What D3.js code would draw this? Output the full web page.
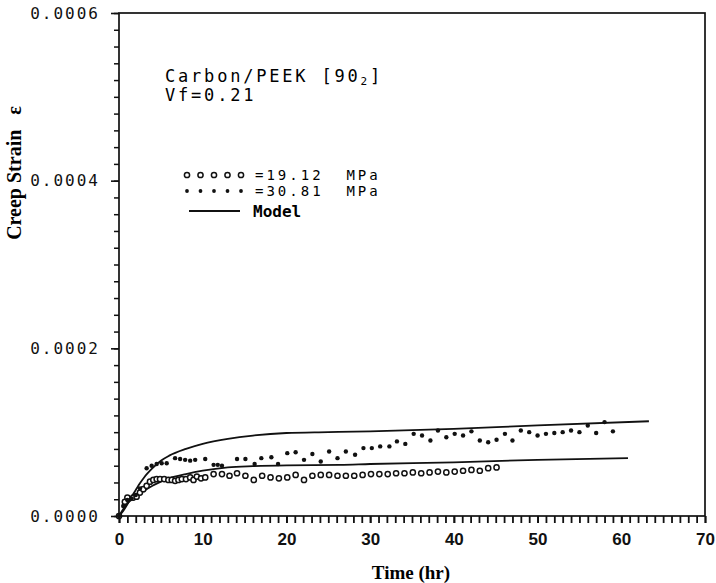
<!DOCTYPE html>
<html>
<head>
<meta charset="utf-8">
<script src="https://cdn.jsdelivr.net/npm/d3@7/dist/d3.min.js"></script>
<style>
  body { margin: 0; background: #fff; }
  svg { display: block; }
  .tick text { fill: #111; }
</style>
</head>
<body>
<svg id="chart" width="716" height="583"></svg>
<script>
// 19.12 MPa measurements (open circles), strain in 1e-6
const lowTime = [0, 0.7, 1.0, 1.7, 2.1, 2.5, 2.9, 3.3, 3.7, 4.1, 4.5, 4.9, 5.4, 5.9, 6.3, 6.7, 7.1, 7.5, 8.0, 8.5,
  8.9, 9.3, 9.8, 10.3, 11.3, 12.3, 13.2, 14.1, 15.1, 16.1, 17.1, 18.1, 19.1, 20.1, 21.1, 22.1, 23.1, 24.1, 25.1, 26.1,
  27.1, 28.1, 29.1, 30.1, 31.1, 32.1, 33.1, 34.1, 35.1, 36.1, 37.1, 38.1, 39.1, 40.1, 41.1, 42.1, 43.1, 44.1, 45.1]
const lowStrain = [0, 17, 22, 22, 23, 28, 32, 36, 41, 43, 44, 44, 44, 43, 43, 42, 43, 44, 44, 46,
  43, 47, 45, 46, 50, 50, 48, 51, 48, 43, 48, 46, 45, 46, 49, 43, 48, 49, 49, 48,
  48, 48, 49, 50, 50, 50, 51, 51, 52, 51, 52, 53, 52, 53, 54, 55, 54, 57, 58]

// 30.81 MPa measurements (filled dots)
const highTime = [0, 0.5, 1.0, 1.5, 2.0, 2.5, 3.3, 3.9, 4.5, 5.1, 5.7, 6.7, 7.3, 7.9, 8.5, 9.1, 10.3, 11.3, 11.8, 12.3,
  14.1, 15.1, 16.2, 17.0, 18.2, 19.0, 20.1, 21.1, 22.1, 23.1, 24.1, 25.1, 26.1, 27.1, 28.2, 29.2, 30.2, 31.2, 32.3, 33.2,
  34.2, 35.2, 36.2, 37.2, 38.1, 39.1, 40.1, 41.1, 42.1, 43.1, 44.1, 45.1, 46.1, 47.0, 48.0, 49.0, 50.0, 51.0, 52.0, 53.0,
  54, 55, 56, 57, 58, 59]
const highStrain = [0, 12, 19, 21, 25, 33, 57, 60, 62, 63, 63, 69, 68, 67, 66, 67, 68, 61, 61, 60,
  68, 68, 62, 69, 70, 62, 75, 76, 67, 74, 65, 77, 69, 77, 73, 81, 81, 83, 83, 89,
  86, 98, 96, 90, 102, 94, 98, 96, 101, 90, 88, 91, 98, 90, 102, 100, 96, 98, 99, 100,
  102, 100, 108, 99, 112, 101]

// model curves
const modelHighTime = [0, 0.5, 1, 1.5, 2, 2.5, 3, 4, 5, 6, 8, 10, 13, 16, 20, 25, 30, 40, 50, 63.3]
const modelHighStrain = [0, 6, 14, 23, 31, 39, 46, 57, 66, 72, 80, 86, 92, 96, 99, 100, 101, 104, 108, 113]
const modelLowTime = [0, 0.5, 1, 2, 3, 4, 5, 6, 8, 10, 13, 16, 20, 26.4, 30, 40, 50, 60.8]
const modelLowStrain = [0, 8, 15, 23, 30, 36, 41, 45, 50, 54, 58, 59.5, 60.5, 61, 62, 64, 67, 69]

const xTicks = [0, 10, 20, 30, 40, 50, 60, 70]
const yTicks = [0, 0.0002, 0.0004, 0.0006]

const margin = { top: 13, right: 11, bottom: 67, left: 119 }
const width = 716
const height = 583
const w = width - margin.left - margin.right
const h = height - margin.top - margin.bottom

const x = d3.scaleLinear().domain([0, 70]).range([0, w])
const y = d3.scaleLinear().domain([0, 0.0006]).range([h, 0])

const svg = d3.select('#chart')
const chart = svg.append('g').attr('transform', `translate(${margin.left}, ${margin.top})`)

const toPoints = (ts, vs) => ts.map((t, i) => ({ t, v: vs[i] * 1e-6 }))

// minor ticks
chart.append('g')
  .attr('transform', `translate(0, ${h})`)
  .call(d3.axisBottom(x).tickValues(d3.range(0, 71, 1)).tickSize(7).tickFormat(''))
  .call(g => g.select('.domain').remove())
  .call(g => g.selectAll('line').attr('stroke', '#111').attr('stroke-width', 1.8))

chart.append('g')
  .call(d3.axisLeft(y).tickValues(d3.range(0, 31).map(i => i * 0.00002)).tickSize(5).tickFormat(''))
  .call(g => g.select('.domain').remove())
  .call(g => g.selectAll('line').attr('stroke', '#111').attr('stroke-width', 1.5))

// major ticks with labels
chart.append('g')
  .attr('transform', `translate(0, ${h})`)
  .call(d3.axisBottom(x).tickValues(xTicks).tickSize(7).tickPadding(10).tickFormat(d3.format('d')))
  .call(g => g.select('.domain').remove())
  .call(g => g.selectAll('line').attr('stroke', '#111').attr('stroke-width', 1.8))
  .call(g => g.selectAll('text')
    .style('font-family', '"Liberation Sans", Arial, sans-serif')
    .style('font-weight', 'bold')
    .style('font-size', '17px'))

chart.append('g')
  .call(d3.axisLeft(y).tickValues(yTicks).tickSize(8).tickPadding(11).tickFormat(d3.format('.4f')))
  .call(g => g.select('.domain').remove())
  .call(g => g.selectAll('line').attr('stroke', '#111').attr('stroke-width', 1.6))
  .call(g => g.selectAll('text')
    .style('font-family', '"DejaVu Sans Mono", monospace')
    .style('font-size', '16px')
    .style('letter-spacing', '2px'))

// frame
chart.append('rect')
  .attr('width', w).attr('height', h)
  .attr('fill', 'none').attr('stroke', '#111').attr('stroke-width', 1.7)

// model lines
const line = d3.line().x(d => x(d.t)).y(d => y(d.v)).curve(d3.curveMonotoneX)
chart.append('path')
  .datum(toPoints(modelHighTime, modelHighStrain))
  .attr('d', line).attr('fill', 'none').attr('stroke', '#111').attr('stroke-width', 1.8)
chart.append('path')
  .datum(toPoints(modelLowTime, modelLowStrain))
  .attr('d', line).attr('fill', 'none').attr('stroke', '#111').attr('stroke-width', 1.8)

// measured points
chart.append('g').selectAll('circle')
  .data(toPoints(lowTime, lowStrain))
  .enter().append('circle')
    .attr('cx', d => x(d.t)).attr('cy', d => y(d.v)).attr('r', 2.6)
    .attr('fill', '#fff').attr('stroke', '#111').attr('stroke-width', 1.5)

chart.append('g').selectAll('circle')
  .data(toPoints(highTime, highStrain))
  .enter().append('circle')
    .attr('cx', d => x(d.t)).attr('cy', d => y(d.v)).attr('r', 2.2)
    .attr('fill', '#111')

// axis titles
svg.append('text')
  .attr('x', 411).attr('y', 579)
  .attr('text-anchor', 'middle')
  .style('font-family', '"Liberation Serif", "Times New Roman", serif')
  .style('font-weight', 'bold').style('font-size', '19px')
  .text('Time  (hr)')

svg.append('text')
  .attr('transform', 'translate(21, 173) rotate(-90)')
  .attr('text-anchor', 'middle')
  .attr('xml:space', 'preserve')
  .style('font-family', '"Liberation Serif", "Times New Roman", serif')
  .style('font-weight', 'bold').style('font-size', '20px')
  .text('Creep Strain   ε')

// annotation
const mono = '"DejaVu Sans Mono", monospace'
const note = svg.append('text')
  .attr('x', 165).attr('y', 82)
  .style('font-family', mono).style('font-size', '17px').style('letter-spacing', '2.8px')
note.append('tspan').text('Carbon/PEEK [90')
note.append('tspan').attr('dy', 3).style('font-size', '11px').text('2')
note.append('tspan').attr('dy', -3).text(']')

svg.append('text')
  .attr('x', 165).attr('y', 101)
  .style('font-family', mono).style('font-size', '17px').style('letter-spacing', '2.8px')
  .text('Vf=0.21')

// legend
const legendX = d3.range(5).map(i => 187 + i * 13.5)
svg.append('g').selectAll('circle')
  .data(legendX)
  .enter().append('circle')
    .attr('cx', d => d).attr('cy', 175).attr('r', 2.6)
    .attr('fill', '#fff').attr('stroke', '#111').attr('stroke-width', 1.5)
svg.append('g').selectAll('circle')
  .data(legendX)
  .enter().append('circle')
    .attr('cx', d => d).attr('cy', 191).attr('r', 1.9)
    .attr('fill', '#111')
svg.append('line')
  .attr('x1', 189).attr('x2', 240).attr('y1', 211).attr('y2', 211)
  .attr('stroke', '#111').attr('stroke-width', 1.8)

svg.append('text')
  .attr('x', 255).attr('y', 180)
  .attr('xml:space', 'preserve')
  .style('font-family', mono).style('font-size', '14px').style('letter-spacing', '3px')
  .text('=19.12  MPa')
svg.append('text')
  .attr('x', 255).attr('y', 196)
  .attr('xml:space', 'preserve')
  .style('font-family', mono).style('font-size', '14px').style('letter-spacing', '3px')
  .text('=30.81  MPa')
svg.append('text')
  .attr('x', 253).attr('y', 217)
  .style('font-family', mono).style('font-weight', 'bold').style('font-size', '16px')
  .text('Model')
</script>
</body>
</html>
